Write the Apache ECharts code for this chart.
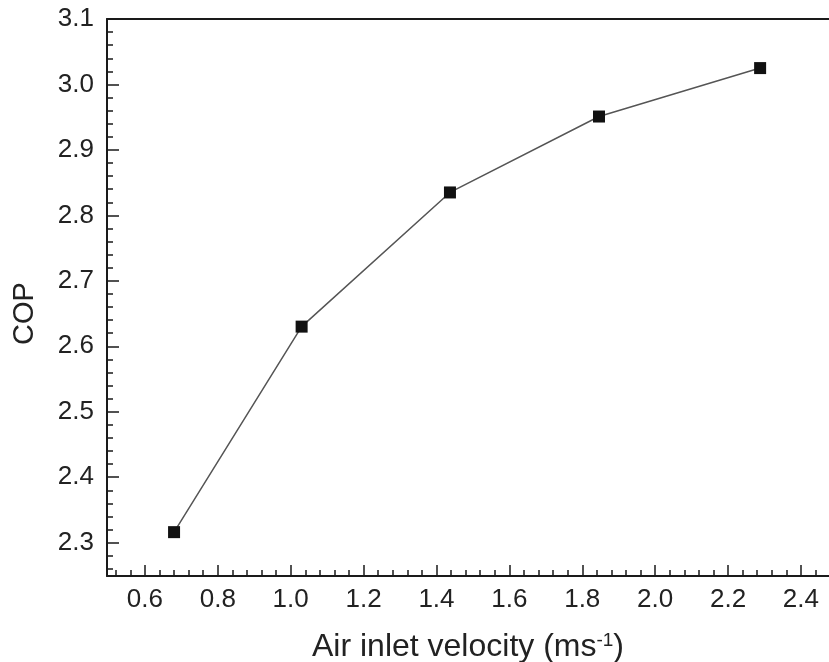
<!DOCTYPE html>
<html>
<head>
<meta charset="utf-8">
<script src="https://cdn.jsdelivr.net/npm/echarts@6/dist/echarts.min.js"></script>
<style>
html,body{margin:0;padding:0;background:#fff;}
#chart{width:829px;height:662px;}
</style>
</head>
<body>
<div id="chart"></div>
<script>
// Data
const velocity = [0.68, 1.03, 1.437, 1.846, 2.288];
const cop = [2.316, 2.630, 2.835, 2.951, 3.025];

// Axis tick labels
const xTicks = [0.6, 0.8, 1.0, 1.2, 1.4, 1.6, 1.8, 2.0, 2.2, 2.4];
const yTicks = [2.3, 2.4, 2.5, 2.6, 2.7, 2.8, 2.9, 3.0, 3.1];

const xMin = 0.496, xMax = 2.477;
const yMin = 2.249, yMax = 3.1;

function minorList(start, end, step, majors) {
  const out = [];
  for (let v = start; v <= end + 1e-9; v += step) {
    const r = Math.round(v * 1000) / 1000;
    if (!majors.some(m => Math.abs(m - r) < 1e-6)) out.push(r);
  }
  return out;
}
const xMinor = minorList(0.52, 2.44, 0.04, xTicks);
const yMinor = minorList(2.26, 3.08, 0.02, yTicks);

const FONT = 'Liberation Sans, Arial, sans-serif';
const axisCol = '#1a1a1a';

const chart = echarts.init(document.getElementById('chart'), null, {renderer: 'canvas'});
chart.setOption({
  animation: false,
  backgroundColor: '#fff',
  grid: {left: 107, top: 19, right: 0, bottom: 86, containLabel: false, outerBoundsMode: 'none'},
  xAxis: [
    {
      type: 'value', position: 'bottom', min: xMin, max: xMax,
      axisLine: {show: true, lineStyle: {color: axisCol, width: 2}},
      axisTick: {show: true, inside: true, length: 11, customValues: xTicks, lineStyle: {color: axisCol, width: 1.5}},
      axisLabel: {show: true, customValues: xTicks, margin: 11, fontSize: 26, color: '#222', fontFamily: FONT,
        formatter: v => v.toFixed(1)},
      splitLine: {show: false},
      name: 'Air inlet velocity (ms{sup|-1})',
      nameLocation: 'middle', nameGap: 55,
      nameTextStyle: {fontSize: 32, color: '#222', fontFamily: FONT,
        rich: {sup: {fontSize: 19, color: '#222', fontFamily: FONT, verticalAlign: 'top', padding: [0, 0, 14, 0]}}}
    },
    {
      type: 'value', position: 'bottom', min: xMin, max: xMax,
      axisLine: {show: false},
      axisTick: {show: true, inside: true, length: 6, customValues: xMinor, lineStyle: {color: axisCol, width: 1.5}},
      axisLabel: {show: false},
      splitLine: {show: false}
    },
    {
      type: 'value', position: 'top', min: xMin, max: xMax,
      axisLine: {show: true, lineStyle: {color: axisCol, width: 2}},
      axisTick: {show: false}, axisLabel: {show: false}, splitLine: {show: false}
    }
  ],
  yAxis: [
    {
      type: 'value', position: 'left', min: yMin, max: yMax,
      axisLine: {show: true, lineStyle: {color: axisCol, width: 2}},
      axisTick: {show: true, inside: true, length: 12, customValues: yTicks, lineStyle: {color: axisCol, width: 1.5}},
      axisLabel: {show: true, customValues: yTicks, margin: 13, fontSize: 26, color: '#222', fontFamily: FONT,
        formatter: v => v.toFixed(1)},
      splitLine: {show: false},
      name: 'COP', nameLocation: 'middle', nameGap: 68, nameRotate: 90,
      nameTextStyle: {fontSize: 29, color: '#222', fontFamily: FONT, padding: [0, 32, 0, 0]}
    },
    {
      type: 'value', position: 'left', min: yMin, max: yMax,
      axisLine: {show: false},
      axisTick: {show: true, inside: true, length: 6, customValues: yMinor, lineStyle: {color: axisCol, width: 1.5}},
      axisLabel: {show: false},
      splitLine: {show: false}
    }
  ],
  series: [{
    type: 'line',
    xAxisIndex: 0, yAxisIndex: 0,
    data: velocity.map((v, i) => [v, cop[i]]),
    symbol: 'rect', symbolSize: 12,
    itemStyle: {color: '#111'},
    lineStyle: {color: '#555', width: 1.5},
    z: 5
  }]
});
</script>
</body>
</html>
